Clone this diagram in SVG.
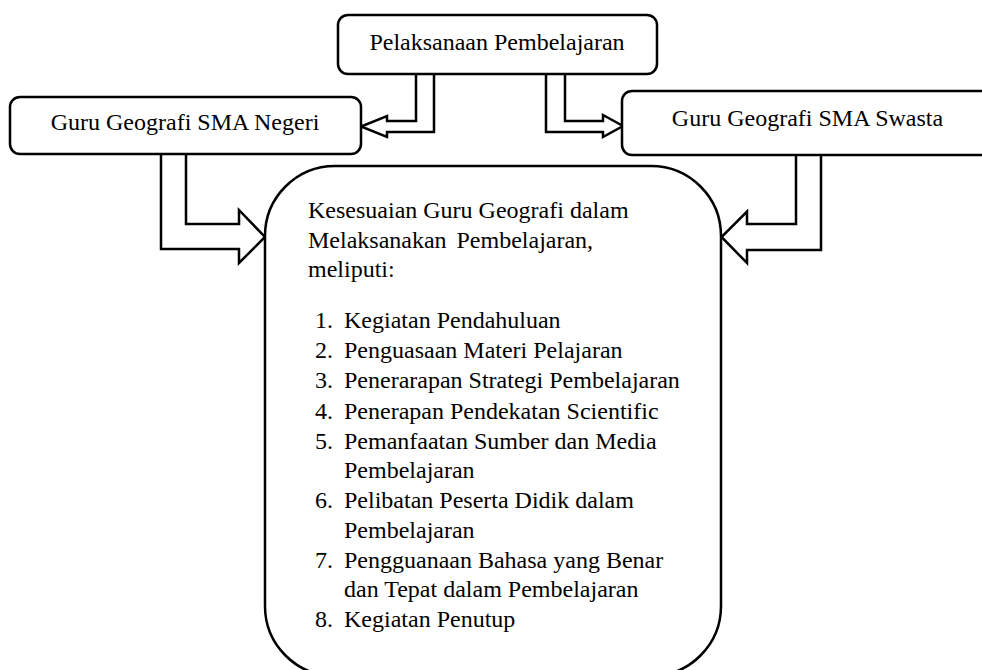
<svg xmlns="http://www.w3.org/2000/svg" width="982" height="670" viewBox="0 0 982 670">
<style>
  .box { fill: #ffffff; stroke: #000000; stroke-width: 2.5; }
  .arrow { fill: #ffffff; stroke: #000000; stroke-width: 2.5; stroke-linejoin: miter; }
  .t { font-family: "Liberation Serif", "Times New Roman", serif; font-size: 24px; fill: #000000; }
  .c { text-anchor: middle; }
</style>
<rect width="982" height="670" fill="#ffffff"/>
<g id="connectors">
  <path class="arrow" d="M416,74 V121 H387 V116 L361,126.5 L387,137 V132 H434 V74"/>
  <path class="arrow" d="M565,74 V121 H603 V115 L623,126 L603,137 V132 H546 V74"/>
  <path class="arrow" d="M186,154 V224 H239 V210 L265,237 L239,263 V249 H161 V154"/>
  <path class="arrow" d="M796,155 V224 H747 V211.5 L721.5,237 L747,263 V250 H821 V155"/>
</g>
<g id="node-pelaksanaan">
  <rect class="box" x="338" y="15" width="319" height="59" rx="10"/>
  <text class="t c" x="497" y="50">Pelaksanaan Pembelajaran</text>
</g>
<g id="node-negeri">
  <rect class="box" x="10" y="97" width="351" height="57" rx="10"/>
  <text class="t c" x="185" y="130">Guru Geografi SMA Negeri</text>
</g>
<g id="node-swasta">
  <rect class="box" x="622" y="91" width="400" height="64" rx="10"/>
  <text class="t c" x="807.5" y="126">Guru Geografi SMA Swasta</text>
</g>
<g id="node-kesesuaian">
  <rect class="box" x="265" y="166" width="456" height="510" rx="70"/>
  <text class="t" x="308" y="218">Kesesuaian Guru Geografi dalam</text>
  <text class="t" y="247.5"><tspan x="308">Melaksanakan</tspan><tspan x="456.5">Pembelajaran,</tspan></text>
  <text class="t" x="308" y="277">meliputi:</text>
  <text class="t" x="315" y="328">1.</text><text class="t" x="344" y="328">Kegiatan Pendahuluan</text>
  <text class="t" x="315" y="358">2.</text><text class="t" x="344" y="358">Penguasaan Materi Pelajaran</text>
  <text class="t" x="315" y="388">3.</text><text class="t" x="344" y="388">Penerarapan Strategi Pembelajaran</text>
  <text class="t" x="315" y="418.5">4.</text><text class="t" x="344" y="418.5">Penerapan Pendekatan Scientific</text>
  <text class="t" x="315" y="449">5.</text><text class="t" x="344" y="449">Pemanfaatan Sumber dan Media</text>
  <text class="t" x="344" y="478">Pembelajaran</text>
  <text class="t" x="315" y="508">6.</text><text class="t" x="344" y="508">Pelibatan Peserta Didik dalam</text>
  <text class="t" x="344" y="537.5">Pembelajaran</text>
  <text class="t" x="315" y="568">7.</text><text class="t" x="344" y="568">Pengguanaan Bahasa yang Benar</text>
  <text class="t" x="344" y="597">dan Tepat dalam Pembelajaran</text>
  <text class="t" x="315" y="627">8.</text><text class="t" x="344" y="627">Kegiatan Penutup</text>
</g>
</svg>
